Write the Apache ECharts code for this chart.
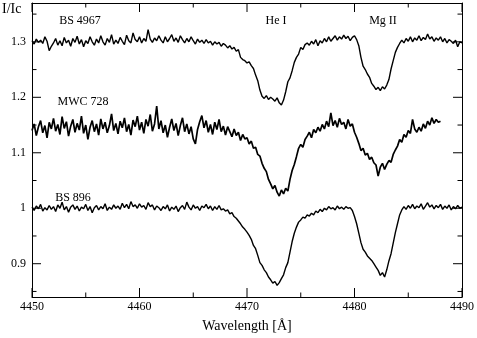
<!DOCTYPE html>
<html>
<head>
<meta charset="utf-8">
<script src="https://cdn.jsdelivr.net/npm/echarts@6/dist/echarts.min.js"></script>
<style>html,body{margin:0;padding:0;background:#fff}#c{width:477px;height:338px}</style>
</head>
<body>
<div id="c"></div>
<script>
// Sampling grid of the spectra (Angstrom)
const gridStart = 4450;
const gridStep = 0.2;

// BS 4967, 4450.0 .. 4490.0
const bs4967 = [
1.302,1.296,1.305,1.299,1.303,1.297,1.309,1.301,1.284,1.292,
1.298,1.306,1.294,1.302,1.293,1.308,1.298,1.303,1.292,1.306,
1.299,1.310,1.296,1.304,1.291,1.302,1.297,1.309,1.300,1.294,
1.305,1.298,1.311,1.300,1.294,1.306,1.299,1.313,1.296,1.303,
1.297,1.308,1.301,1.295,1.312,1.302,1.298,1.316,1.304,1.300,
1.309,1.298,1.306,1.301,1.322,1.305,1.299,1.307,1.302,1.311,
1.303,1.298,1.309,1.300,1.306,1.313,1.301,1.307,1.299,1.311,
1.304,1.298,1.306,1.300,1.309,1.302,1.296,1.305,1.299,1.303,
1.297,1.304,1.298,1.301,1.294,1.300,1.296,1.299,1.292,1.297,
1.294,1.289,1.293,1.287,1.290,1.283,1.286,1.272,1.268,1.266,
1.262,1.264,1.257,1.252,1.240,1.230,1.213,1.202,1.198,1.203,
1.196,1.200,1.197,1.193,1.199,1.190,1.186,1.195,1.210,1.228,
1.235,1.248,1.263,1.272,1.278,1.290,1.286,1.295,1.298,1.294,
1.301,1.296,1.304,1.293,1.302,1.298,1.306,1.300,1.309,1.301,
1.306,1.311,1.303,1.309,1.305,1.312,1.306,1.310,1.302,1.308,
1.311,1.304,1.293,1.272,1.256,1.250,1.242,1.236,1.225,1.220,
1.214,1.218,1.212,1.219,1.215,1.222,1.232,1.251,1.266,1.281,
1.290,1.297,1.303,1.298,1.306,1.301,1.309,1.300,1.307,1.303,
1.311,1.302,1.308,1.304,1.314,1.305,1.309,1.301,1.307,1.303,
1.309,1.300,1.306,1.298,1.304,1.301,1.297,1.303,1.291,1.300,
1.298
];

// MWC 728, 4450.0 .. 4488.0
const mwc728 = [
1.140,1.152,1.131,1.147,1.158,1.136,1.149,1.127,1.155,1.143,
1.162,1.139,1.151,1.133,1.165,1.144,1.156,1.130,1.148,1.160,
1.137,1.153,1.141,1.166,1.135,1.150,1.124,1.146,1.158,1.138,
1.152,1.132,1.161,1.143,1.155,1.136,1.149,1.170,1.140,1.153,
1.134,1.157,1.145,1.163,1.138,1.151,1.132,1.159,1.147,1.166,
1.141,1.155,1.135,1.160,1.148,1.169,1.139,1.152,1.184,1.143,
1.158,1.136,1.150,1.128,1.146,1.161,1.140,1.153,1.131,1.149,
1.163,1.138,1.152,1.134,1.147,1.125,1.116,1.142,1.156,1.167,
1.145,1.158,1.137,1.151,1.133,1.155,1.142,1.160,1.138,1.148,
1.132,1.147,1.138,1.129,1.143,1.131,1.137,1.122,1.133,1.125,
1.127,1.116,1.121,1.108,1.110,1.097,1.094,1.081,1.072,1.066,
1.052,1.044,1.035,1.041,1.029,1.022,1.033,1.026,1.036,1.031,
1.052,1.068,1.079,1.093,1.108,1.115,1.110,1.124,1.130,1.137,
1.127,1.142,1.136,1.146,1.139,1.151,1.143,1.157,1.147,1.172,
1.149,1.158,1.146,1.162,1.151,1.155,1.143,1.160,1.148,1.152,
1.137,1.128,1.117,1.104,1.108,1.096,1.099,1.088,1.092,1.082,
1.078,1.058,1.074,1.081,1.070,1.079,1.086,1.083,1.097,1.105,
1.112,1.124,1.119,1.133,1.128,1.140,1.135,1.160,1.143,1.137,
1.146,1.139,1.152,1.144,1.157,1.150,1.163,1.153,1.160,1.155,
1.157
];

// BS 896, 4450.0 .. 4490.0
const bs896 = [
1.002,0.996,1.004,0.999,1.007,0.995,1.001,0.997,1.005,0.998,
1.003,0.994,1.006,1.000,1.011,0.997,1.003,0.993,1.002,1.006,
0.998,1.004,0.995,1.002,0.999,1.007,0.996,1.003,0.992,1.001,
1.005,0.997,1.003,0.999,1.008,0.996,1.002,0.998,1.006,1.000,
1.004,0.998,1.009,1.001,1.007,0.999,1.012,1.003,1.006,1.000,
1.008,1.002,1.005,0.998,1.010,1.003,1.006,0.997,1.004,1.001,
0.996,1.003,0.999,1.006,0.995,1.002,0.998,1.004,0.994,1.001,
1.005,0.998,1.011,1.002,0.997,1.006,1.000,1.003,0.996,1.004,
1.001,1.007,0.999,1.004,0.996,1.003,0.998,1.005,0.997,0.999,
0.995,0.997,0.990,0.992,0.985,0.982,0.977,0.972,0.966,0.962,
0.957,0.951,0.944,0.933,0.927,0.915,0.902,0.897,0.889,0.884,
0.876,0.871,0.865,0.868,0.861,0.866,0.873,0.880,0.893,0.902,
0.921,0.940,0.955,0.966,0.975,0.979,0.984,0.982,0.988,0.986,
0.991,0.988,0.995,0.992,0.998,0.994,1.000,0.997,1.003,0.999,
1.001,0.997,1.004,0.999,1.002,0.998,1.003,1.000,1.001,0.996,
0.985,0.972,0.955,0.938,0.926,0.921,0.914,0.910,0.906,0.900,
0.894,0.888,0.879,0.884,0.876,0.889,0.905,0.918,0.937,0.956,
0.972,0.988,0.997,1.003,0.998,1.005,1.000,1.007,0.999,1.004,
1.001,1.008,0.998,1.004,1.010,1.002,1.006,0.999,1.005,1.001,
1.007,0.998,1.004,1.000,1.006,0.997,1.003,0.999,1.005,1.000,
1.002
];

const spectrumNames = ['BS 4967', 'MWC 728', 'BS 896'];
const lineNames = ['He I', 'Mg II'];

// Tick values (axis units)
const xMajorTicks = [4450, 4460, 4470, 4480, 4490];
const xMinorTicks = [4455, 4465, 4475, 4485];
const yMajorTicks = [0.9, 1.0, 1.1, 1.2, 1.3];
const yMinorTicks = [0.85, 0.95, 1.05, 1.15, 1.25, 1.35];

const X_MIN = 4450, X_MAX = 4490, Y_MIN = 0.84, Y_MAX = 1.37;

function pairs(arr) {
  return arr.map((v, i) => [+(gridStart + i * gridStep).toFixed(1), v]);
}

const FONT = 'Liberation Serif';
const chart = echarts.init(document.getElementById('c'));

const xBase = {type: 'value', min: X_MIN, max: X_MAX, interval: 10, splitLine: {show: false}};
const yBase = {type: 'value', min: Y_MIN, max: Y_MAX, splitLine: {show: false}};

function xAxisDef(pos, withLabels) {
  return Object.assign({}, xBase, {
    position: pos,
    axisLine: {show: true, onZero: false, lineStyle: {color: '#000', width: 1}},
    axisTick: {show: false},
    axisLabel: withLabels
      ? {show: true, fontFamily: FONT, fontSize: 12, color: '#000', margin: 4, formatter: v => String(v)}
      : {show: false}
  }, withLabels ? {
    name: 'Wavelength [Å]', nameLocation: 'middle', nameGap: 22,
    nameTextStyle: {fontFamily: FONT, fontSize: 14, color: '#000'}
  } : {});
}

function yAxisDef(pos, withLabels) {
  return Object.assign({}, yBase, {
    position: pos,
    splitNumber: 5,
    axisLine: {show: true, onZero: false, lineStyle: {color: '#000', width: 1}},
    axisTick: {show: false},
    axisLabel: withLabels
      ? {show: true, fontFamily: FONT, fontSize: 12, color: '#000', margin: 6,
         showMinLabel: false, showMaxLabel: false, formatter: v => String(+v.toFixed(2))}
      : {show: false}
  });
}

// Tick marks drawn through the library's own coordinate system
function tickSeries(values, dim, len) {
  return {
    type: 'custom',
    xAxisIndex: 0, yAxisIndex: 0,
    clip: false,
    silent: true,
    z: 5,
    data: values.map(v => [v]),
    renderItem: function (params, api) {
      const v = api.value(0);
      let a0, b0, a1, b1;
      if (dim === 'x') {
        const p0 = api.coord([v, Y_MIN]);
        const p1 = api.coord([v, Y_MAX]);
        a0 = [p0[0], p0[1]]; b0 = [p0[0], p0[1] - len];
        a1 = [p1[0], p1[1]]; b1 = [p1[0], p1[1] + len];
      } else {
        const p0 = api.coord([X_MIN, v]);
        const p1 = api.coord([X_MAX, v]);
        a0 = [p0[0], p0[1]]; b0 = [p0[0] + len, p0[1]];
        a1 = [p1[0], p1[1]]; b1 = [p1[0] - len, p1[1]];
      }
      const st = {stroke: '#000', lineWidth: 1};
      return {
        type: 'group',
        children: [
          {type: 'line', shape: {x1: a0[0], y1: a0[1], x2: b0[0], y2: b0[1]}, style: st},
          {type: 'line', shape: {x1: a1[0], y1: a1[1], x2: b1[0], y2: b1[1]}, style: st}
        ]
      };
    }
  };
}

const spectra = [bs4967, mwc728, bs896].map((arr, k) => ({
  name: spectrumNames[k],
  type: 'line',
  xAxisIndex: 0, yAxisIndex: 0,
  data: pairs(arr),
  showSymbol: false,
  symbol: 'none',
  lineStyle: {color: '#000', width: k === 1 ? 1.7 : 1.4},
  silent: true
}));

chart.setOption({
  animation: false,
  backgroundColor: '#fff',
  grid: {left: 32, right: 13, top: 3, bottom: 34},
  xAxis: [xAxisDef('bottom', true), xAxisDef('top', false)],
  yAxis: [yAxisDef('left', true), yAxisDef('right', false)],
  series: spectra.concat([
    tickSeries(xMajorTicks, 'x', 9),
    tickSeries(xMinorTicks, 'x', 4.5),
    tickSeries(yMajorTicks, 'y', 9),
    tickSeries(yMinorTicks, 'y', 4.5)
  ]),
  graphic: [
    {type: 'text', left: 2, top: 2, style: {text: 'I/Ic', font: '14px "Liberation Serif"', fill: '#000'}},
    {type: 'text', x: 80, y: 21, style: {text: spectrumNames[0], font: '12px "Liberation Serif"', fill: '#000', align: 'center', verticalAlign: 'middle'}},
    {type: 'text', x: 83, y: 102, style: {text: spectrumNames[1], font: '12px "Liberation Serif"', fill: '#000', align: 'center', verticalAlign: 'middle'}},
    {type: 'text', x: 73, y: 198, style: {text: spectrumNames[2], font: '12px "Liberation Serif"', fill: '#000', align: 'center', verticalAlign: 'middle'}},
    {type: 'text', x: 276, y: 21, style: {text: lineNames[0], font: '12px "Liberation Serif"', fill: '#000', align: 'center', verticalAlign: 'middle'}},
    {type: 'text', x: 383, y: 21, style: {text: lineNames[1], font: '12px "Liberation Serif"', fill: '#000', align: 'center', verticalAlign: 'middle'}}
  ]
});
</script>
</body>
</html>
